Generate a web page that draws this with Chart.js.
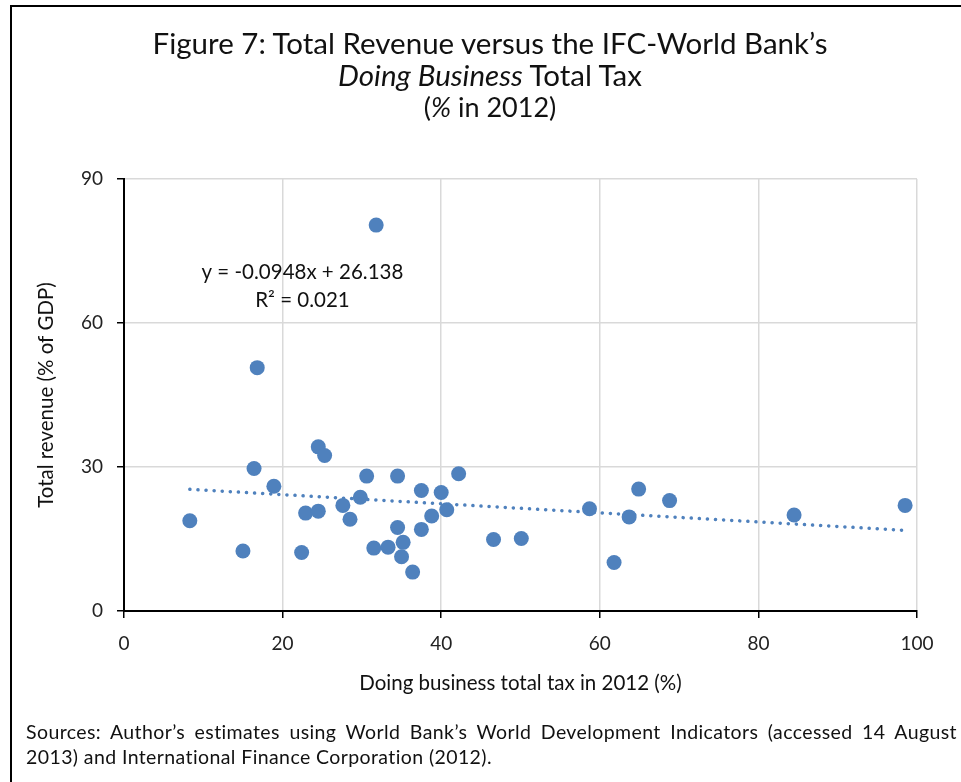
<!DOCTYPE html>
<html>
<head>
<meta charset="utf-8">
<script src="https://cdn.jsdelivr.net/npm/chart.js@4"></script>
<style>
  body { margin: 0; background: #fff; width: 961px; height: 782px; overflow: hidden; position: relative; font-family: Lato, "Open Sans", sans-serif; color: #111; }
  #frame { position: absolute; left: 10px; top: 5px; width: 980px; height: 800px; border-top: 2px solid #000; border-left: 2px solid #000; }
  #title { position: absolute; left: 0; width: 980px; top: 27px; text-align: center; font-size: 29.5px; line-height: 31.5px; }
  #title .sub { font-size: 27px; }
  #note { position: absolute; left: 26px; width: 931px; top: 719px; font-size: 19.5px; letter-spacing: 0.4px; line-height: 25px; }
  #note .first { text-align: justify; text-align-last: justify; }
  #chart { position: absolute; left: 0; top: 0; }
</style>
</head>
<body>
<div id="frame"></div>
<canvas id="chart" width="961" height="782"></canvas>
<div id="title">Figure 7: Total Revenue versus the IFC-World Bank’s<br><i>Doing Business</i> Total Tax<br><span class="sub">(<i>%</i> in 2012)</span></div>
<div id="note"><div class="first">Sources: Author’s estimates using World Bank’s World Development Indicators (accessed 14 August</div><div>2013) and International Finance Corporation (2012).</div></div>
<script>
// Doing business total tax (%), x values
const taxRate = [8.3, 15.0, 16.4, 16.8, 18.9, 22.4, 22.9, 24.5, 24.5, 25.3,
    27.6, 28.5, 29.8, 30.6, 31.5, 31.8, 33.3, 34.5, 34.5, 35.0,
    35.2, 36.4, 37.5, 37.5, 38.8, 40.0, 40.7, 42.2, 46.6, 50.1,
    58.7, 61.8, 63.7, 64.9, 68.8, 84.5, 98.5];
// Total revenue (% of GDP), y values
const revenue = [18.8, 12.5, 29.7, 50.7, 26.0, 12.2, 20.4, 20.8, 34.2, 32.4,
    22.0, 19.1, 23.7, 28.1, 13.1, 80.4, 13.3, 28.1, 17.4, 11.3,
    14.3, 8.1, 25.1, 17.0, 19.8, 24.7, 21.1, 28.6, 14.9, 15.1,
    21.3, 10.1, 19.6, 25.4, 23.0, 20.0, 22.0];
// linear trend line ends
const trendTax = [8.3, 98.5];
const trendRevenue = [25.35, 16.8];

const xTicks = [0, 20, 40, 60, 80, 100];
const yTicks = [0, 30, 60, 90];
const equationText = ["y = -0.0948x + 26.138", "R² = 0.021"];

const blue = "#4f81bd";
const gridColor = (c) => (c.tick && c.tick.value === 0 ? "rgba(0,0,0,0)" : "#d9d9d9");

const equationLabel = {
    id: "equationLabel",
    afterDatasetsDraw(chart) {
        const { ctx, scales } = chart;
        const cx = scales.x.getPixelForValue(22.5);
        ctx.save();
        ctx.font = "20.5px Lato";
        ctx.fillStyle = "#111";
        ctx.textAlign = "center";
        ctx.textBaseline = "middle";
        ctx.fillText(equationText[0], cx, scales.y.getPixelForValue(70.6));
        ctx.fillText(equationText[1], cx, scales.y.getPixelForValue(64.8));
        ctx.restore();
    },
};

const points = taxRate.map((x, i) => ({ x, y: revenue[i] }));
const trend = trendTax.map((x, i) => ({ x, y: trendRevenue[i] }));

new Chart(document.getElementById("chart"), {
    type: "scatter",
    data: {
        datasets: [
            {
                type: "line",
                label: "Trend",
                data: trend,
                borderColor: blue,
                borderWidth: 3.5,
                borderCapStyle: "round",
                borderDash: [0.1, 8],
                pointRadius: 0,
                fill: false,
                order: 1,
            },
            {
                label: "Countries",
                data: points,
                backgroundColor: blue,
                borderWidth: 0,
                pointRadius: 7.5,
                order: 2,
            },
        ],
    },
    options: {
        responsive: false,
        animation: false,
        devicePixelRatio: 1,
        layout: { padding: { left: 0, top: 179, right: 44, bottom: 81 } },
        plugins: { legend: { display: false }, tooltip: { enabled: false } },
        scales: {
            x: {
                type: "linear",
                min: 0,
                max: 100,
                afterBuildTicks: (s) => { s.ticks = xTicks.map((v) => ({ value: v })); },
                afterFit: (s) => { s.height = 90; },
                grid: { color: gridColor, lineWidth: 1.5, tickColor: "#000", tickLength: 7, tickWidth: 1.5 },
                border: { color: "#000", width: 2 },
                ticks: { color: "#222", font: { family: "Lato", size: 19 }, padding: 14 },
                title: {
                    display: true,
                    text: "Doing business total tax in 2012 (%)",
                    color: "#111",
                    font: { family: "Lato", size: 20.5 },
                    padding: { top: 0, bottom: 5 },
                },
            },
            y: {
                min: 0,
                max: 90,
                afterBuildTicks: (s) => { s.ticks = yTicks.map((v) => ({ value: v })); },
                afterFit: (s) => { s.width = 124; },
                grid: { color: gridColor, lineWidth: 1.5, tickColor: "#000", tickLength: 7, tickWidth: 1.5 },
                border: { color: "#000", width: 2 },
                ticks: { color: "#222", font: { family: "Lato", size: 19 }, padding: 14 },
                title: {
                    display: true,
                    text: "Total revenue (% of GDP)",
                    color: "#111",
                    font: { family: "Lato", size: 20.5 },
                    padding: { top: 34, bottom: 0 },
                },
            },
        },
    },
    plugins: [equationLabel],
});
</script>
</body>
</html>
